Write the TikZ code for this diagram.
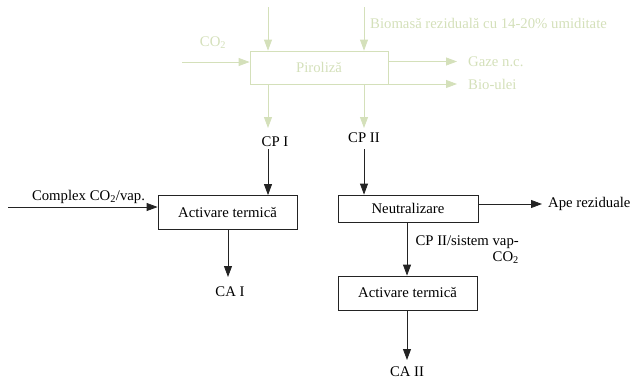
\documentclass[tikz,border=0pt]{standalone}
\usepackage{fontspec}
\setmainfont{Liberation Serif}
\usetikzlibrary{arrows.meta}
\definecolor{pale}{RGB}{212,224,186}
\definecolor{ink}{RGB}{35,35,35}
\begin{document}
\begin{tikzpicture}[x=1bp,y=-1bp,
  every node/.style={font=\fontsize{14.8}{16}\selectfont, inner sep=0pt},
  flow/.style={-{Triangle[length=11bp,width=8bp]}, line width=0.8bp, draw=ink},
  faintflow/.style={flow, draw=pale},
  stage/.style={draw=ink, line width=0.8bp, minimum width=139bp, minimum height=34bp},
  faintstage/.style={stage, draw=pale, text=pale},
  faintlabel/.style={text=pale}
]
\path[use as bounding box] (0,0) rectangle (641,380);

% --- pyrolysis stage (faded) ---
\node[faintstage, minimum width=138bp, minimum height=33bp] (piro) at (319,67.5) {Piroliză};
\coordinate (feedA) at (268,7);
\coordinate (feedB) at (364,7);
\draw[faintflow] (feedA) -- (feedA |- piro.north);
\draw[faintflow] (feedB) -- (feedB |- piro.north);
\node[faintlabel, anchor=west] (biomasa) at (370,23) {Biomasă reziduală cu 14-20\% umiditate};

\coordinate (co2in) at (182,62);
\draw[faintflow] (co2in) -- (co2in -| piro.west);
\node[faintlabel] (co2) at (213,43) {CO\textsubscript{2}};

\coordinate (gazeEnd) at (457,61.5);
\coordinate (bioEnd) at (457,84);
\draw[faintflow] (gazeEnd -| piro.east) -- (gazeEnd);
\draw[faintflow] (bioEnd -| piro.east) -- (bioEnd);
\node[faintlabel, anchor=west] (gaze) at (468,61.5) {Gaze n.c.};
\node[faintlabel, anchor=west] (bioulei) at (468,84) {Bio-ulei};

\coordinate (cpAtip) at (268,128);
\coordinate (cpBtip) at (364,128);
\draw[faintflow] (cpAtip |- piro.south) -- (cpAtip);
\draw[faintflow] (cpBtip |- piro.south) -- (cpBtip);

% --- char products ---
\node (cp1) at (275,142) {CP I};
\node (cp2) at (364,138) {CP II};

% --- branch I ---
\node[stage] (act1) at (227.5,212.5) {Activare termică};
\coordinate (cpAstart) at (268,149);
\draw[flow] (cpAstart) -- (cpAstart |- act1.north);
\coordinate (cxin) at (8,207);
\draw[flow] (cxin) -- (cxin -| act1.west);
\node (complex) at (88.5,197) {Complex CO\textsubscript{2}/vap.};
\coordinate (caIend) at (228,277);
\draw[flow] (caIend |- act1.south) -- (caIend);
\node (ca1) at (230,292) {CA I};

% --- branch II ---
\node[stage, minimum width=140bp, minimum height=27bp] (neut) at (408,208.5) {Neutralizare};
\coordinate (cpBstart) at (364,149);
\draw[flow] (cpBstart) -- (cpBstart |- neut.north);
\coordinate (apeEnd) at (542,204);
\draw[flow] (apeEnd -| neut.east) -- (apeEnd);
\node[anchor=west] (ape) at (548,204) {Ape reziduale};

\node[stage] (act2) at (407.5,293) {Activare termică};
\coordinate (midII) at (407,222);
\draw[flow] (midII |- neut.south) -- (midII |- act2.north);
\node[align=right, anchor=east] (sistem) at (519,249.5) {CP II/sistem vap-\\CO\textsubscript{2}};
\coordinate (caIIend) at (407,360);
\draw[flow] (caIIend |- act2.south) -- (caIIend);
\node (ca2) at (407,372) {CA II};
\end{tikzpicture}
\end{document}
